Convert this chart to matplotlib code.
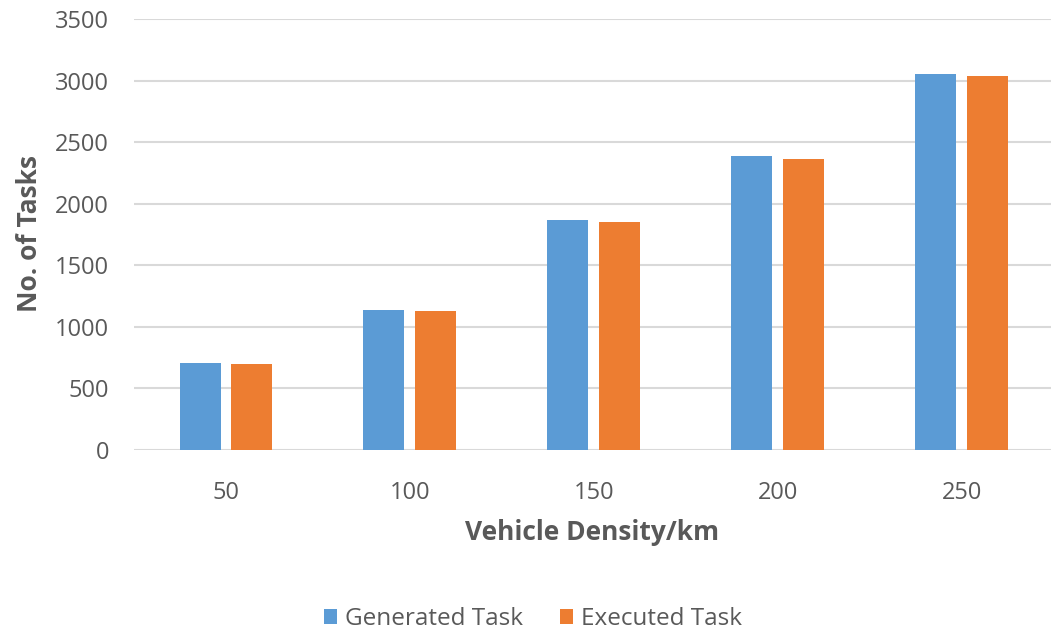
import numpy as np
import matplotlib.pyplot as plt

plt.rcParams['font.family'] = ['Open Sans', 'DejaVu Sans']

densities = ['50', '100', '150', '200', '250']
generated = [705, 1140, 1865, 2385, 3055]
executed = [695, 1125, 1850, 2360, 3035]

BLUE = '#5B9BD5'
ORANGE = '#ED7D31'
TEXT = '#595959'


def main():
    fig = plt.figure(figsize=(10.51, 6.3), dpi=100)
    ax = fig.add_axes([134 / 1051, 180 / 630, 1 - 134 / 1051, 431 / 630])

    x = np.arange(len(densities))
    w = 0.223
    off = 0.141
    ax.bar(x - off, generated, w, color=BLUE, label='Generated Task', zorder=3)
    ax.bar(x + off, executed, w, color=ORANGE, label='Executed Task', zorder=3)

    ax.set_xlim(-0.5, 4.486)
    ax.set_ylim(0, 3500)
    ax.set_yticks(np.arange(0, 3501, 500))
    ax.set_xticks(x)
    ax.set_xticklabels(densities)
    ax.grid(axis='y', color='#d9d9d9', linewidth=1.5, zorder=0)
    for s in ax.spines.values():
        s.set_visible(False)
    ax.tick_params(length=0, labelsize=17, labelcolor=TEXT)
    ax.tick_params(axis='y', pad=18)
    ax.tick_params(axis='x', pad=22)

    ax.set_xlabel('Vehicle Density/km', fontsize=19, fontweight='bold', color=TEXT, va='center')
    ax.xaxis.set_label_coords(0.5, (450 - 533) / 431)
    ax.set_ylabel('No. of Tasks', fontsize=19, fontweight='bold', color=TEXT, va='center')
    ax.yaxis.set_label_coords((30 - 134) / 917, (450 - 233) / 431)

    # legend sits centred under the x label
    fig.legend(loc='center', bbox_to_anchor=(533 / 1051, 1 - 619 / 630), ncol=2, frameon=False,
               fontsize=17.5, labelcolor=TEXT, handlelength=0.55, handleheight=0.55,
               handletextpad=0.33, columnspacing=1.5)

    fig.savefig('out.png', dpi=100)


if __name__ == '__main__':
    main()
